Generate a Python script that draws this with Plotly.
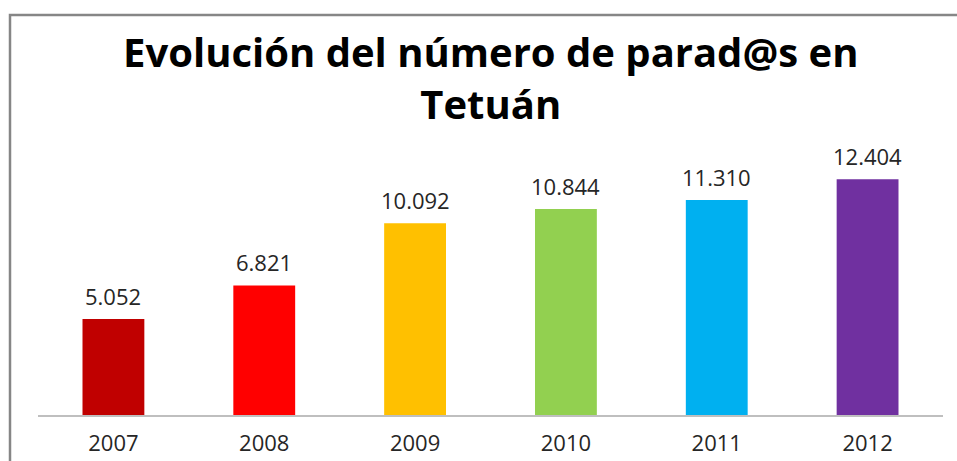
import plotly.graph_objects as go

years = ["2007", "2008", "2009", "2010", "2011", "2012"]
parados = [5052, 6821, 10092, 10844, 11310, 12404]
colors = ["#C00000", "#FF0000", "#FFC000", "#92D050", "#00B0F0", "#7030A0"]
title_text = "Evolución del número de parad@s en<br>Tetuán"

W, H = 957, 461
L, R, T, B = 38, 14, 149, 46

fig = go.Figure(go.Bar(
    x=years, y=parados,
    marker=dict(color=colors, line=dict(width=0)),
    cliponaxis=False, width=0.41, hoverinfo="x+y",
))

for i, v in enumerate(parados):
    fig.add_annotation(x=i, y=v, text=f"{v:,}".replace(",", "."), showarrow=False,
                       xanchor="center", yanchor="bottom", yshift=6,
                       font=dict(family="Open Sans", size=22, color="#262626"))

def px_to_paper_x(px):
    return (px - L) / (W - L - R)

def px_to_paper_y(py):
    return (H - B - py) / (H - B - T)

fig.add_shape(type="rect", xref="paper", yref="paper",
              x0=px_to_paper_x(10), x1=px_to_paper_x(1000),
              y0=px_to_paper_y(520), y1=px_to_paper_y(15),
              line=dict(color="#868686", width=2.5), fillcolor="rgba(0,0,0,0)", layer="above")

fig.add_annotation(text=title_text, xref="paper", yref="paper",
                   x=0.5, y=px_to_paper_y(77), xanchor="center", yanchor="middle",
                   showarrow=False,
                   font=dict(family="Open Sans", size=40, color="#000000", weight="bold"))

fig.update_layout(
    width=W, height=H,
    margin=dict(l=L, r=R, t=T, b=B),
    paper_bgcolor="white", plot_bgcolor="white",
    showlegend=False,
    xaxis=dict(type="category", range=[-0.5, 5.5], showline=True, linecolor="#BFBFBF", linewidth=2, ticks="",
               ticklabelstandoff=8, automargin=False,
               tickfont=dict(family="Open Sans", size=22, color="#262626"),
               showgrid=False, zeroline=False),
    yaxis=dict(range=[0, 14000], visible=False, showgrid=False, zeroline=False, automargin=False),
)

fig.write_html("out.html", config={"displayModeBar": False},
               post_script="document.body.style.margin='0';document.body.style.overflow='hidden';")
